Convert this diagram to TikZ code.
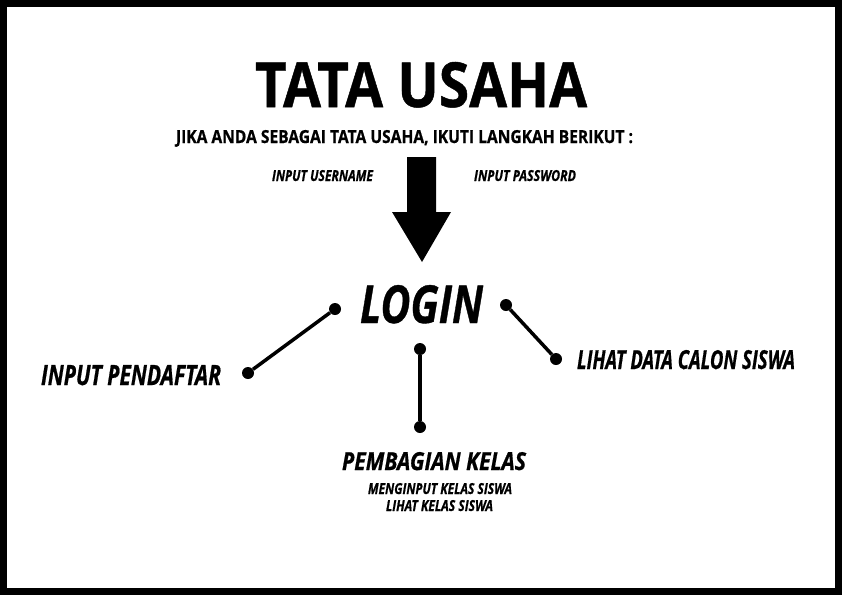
\documentclass[tikz,border=0pt]{standalone}
\usepackage{fontspec}
\setmainfont{Open Sans}[BoldFeatures={FakeBold=0.8},BoldItalicFeatures={FakeBold=0.8}]
\usepackage{graphicx}
\newcommand{\fitbox}[3]{\resizebox{#1pt}{#2pt}{#3}}
\tikzset{
  txt/.style={inner sep=0pt, outer sep=0pt, anchor=base west, font=\bfseries},
  itxt/.style={txt, font=\bfseries\itshape},
  dot/.style={circle, fill=black, inner sep=0pt, minimum size=12pt},
  conn/.style={line width=3.5pt}
}
\begin{document}
\begin{tikzpicture}[x=1pt,y=-1pt]
\useasboundingbox (0,0) rectangle (842,595);
\fill[black] (0,0) rectangle (842,595);
\fill[white] (7,7) rectangle (835,588);
% texts
\node[txt] (title) at (255,107) {\fitbox{332}{45}{TATA USAHA}};
\node[txt] (sub) at (176,143) {\fitbox{457}{13}{JIKA ANDA SEBAGAI TATA USAHA, IKUTI LANGKAH BERIKUT :}};
\node[itxt] (user) at (272,181) {\fitbox{101}{11}{INPUT USERNAME}};
\node[itxt] (pass) at (474,181) {\fitbox{102}{11}{INPUT PASSWORD}};
\node[itxt] (login) at (360,323) {\fitbox{123}{38}{LOGIN}};
\node[itxt] (pend) at (41,385) {\fitbox{180}{20}{INPUT PENDAFTAR}};
\node[itxt] (lihat) at (577,369) {\fitbox{218}{19}{LIHAT DATA CALON SISWA}};
\node[itxt] (bagi) at (342,470) {\fitbox{184}{18}{PEMBAGIAN KELAS}};
\node[itxt] (minput) at (368,494) {\fitbox{144}{11}{MENGINPUT KELAS SISWA}};
\node[itxt] (lkelas) at (386,511) {\fitbox{107}{11}{LIHAT KELAS SISWA}};
% arrow
\fill[black] (407,157) -- (436,157) -- (436,212) -- (451,212) -- (422,262) -- (392,212) -- (407,212) -- cycle;
% dots
\node[dot] (l1) at (335,309) {};
\node[dot] (l2) at (248,373) {};
\node[dot] (r1) at (506,305) {};
\node[dot] (r2) at (556,359) {};
\node[dot] (m1) at (420,349) {};
\node[dot] (m2) at (420,427) {};
% connectors
\draw[conn] (l1) -- (l2);
\draw[conn] (r1) -- (r2);
\draw[conn] (m1) -- (m2);
\end{tikzpicture}
\end{document}
